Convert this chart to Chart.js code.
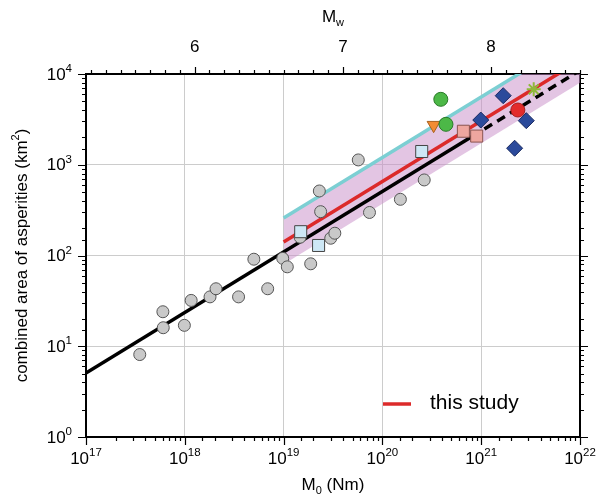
<!DOCTYPE html>
<html>
<head>
<meta charset="utf-8">
<script src="https://cdn.jsdelivr.net/npm/chart.js@4.4.1/dist/chart.umd.min.js"></script>
<style>
html, body { margin: 0; padding: 0; background: #fff; }
#wrap { width: 600px; height: 495px; }
</style>
</head>
<body>
<div id="wrap"><canvas id="chart"></canvas></div>
<script>
// earthquake catalog, M0 in Nm and combined asperity area in km2
const grayM0 = [3.5e17, 6.0e17, 6.05e17, 9.9e17, 1.16e18, 1.8e18, 2.07e18, 3.5e18, 5.0e18, 6.9e18, 9.8e18,
                1.09e19, 1.47e19, 1.88e19, 2.3e19, 2.37e19, 3.0e19, 3.3e19, 5.7e19, 7.4e19, 1.52e20, 2.65e20];
const grayArea = [8.1, 24, 16, 17, 32, 35, 43, 35, 91, 43, 93,
                  75, 159, 81, 514, 304, 155, 176, 1130, 298, 416, 680];
const blueSqM0 = [1.49e19, 2.26e19, 2.5e20];
const blueSqArea = [183, 129, 1400];
const pinkSqM0 = [6.6e20, 9.0e20];
const pinkSqArea = [2340, 2070];
const diamondM0 = [9.9e20, 1.67e21, 2.18e21, 2.86e21];
const diamondArea = [3110, 5770, 1520, 3060];
const redDotM0 = [2.35e21];
const redDotArea = [4010];
const greenM0 = [3.9e20, 4.4e20];
const greenArea = [5260, 2790];
const triM0 = [3.3e20];
const triArea = [2730];
const starM0 = [3.4e21];
const starArea = [6780];

// scaling relations (end points)
const blackM0 = [1e17, 8e20];
const blackArea = [5.07, 2030];
const dashM0 = [8e20, 1e22];
const dashArea = [2030, 10960];
const studyM0 = [1e19, 1e22];
const studyArea = [141, 14100];
const cyanArea = [259, 25900];
const bandLow = [80, 8000];

const mwLabels = [6, 7, 8];

const zip = (xs, ys) => xs.map((x, i) => ({ x: x, y: ys[i] }));
const isDecade = v => Math.abs(Math.log10(v) - Math.round(Math.log10(v))) < 1e-6;
const FONT = '"Liberation Sans", Arial, Helvetica, sans-serif';

function drawPow(ctx, base, exp, x, y, align) {
    ctx.font = '17px ' + FONT;
    const wb = ctx.measureText(base).width;
    ctx.font = '11.5px ' + FONT;
    const we = ctx.measureText(exp).width;
    const start = align === 'center' ? x - (wb + we) / 2 : x - wb - we;
    ctx.textAlign = 'left';
    ctx.textBaseline = 'middle';
    ctx.font = '17px ' + FONT;
    ctx.fillText(base, start, y);
    ctx.font = '11.5px ' + FONT;
    ctx.fillText(exp, start + wb, y - 6);
}

const decor = {
    id: 'decor',
    afterDraw(chart) {
        const ctx = chart.ctx;
        const a = chart.chartArea;
        const s = chart.scales;
        ctx.save();
        ctx.strokeStyle = '#000';
        ctx.lineWidth = 1.2;
        ctx.beginPath();
        s.x.ticks.forEach(t => {
            const p = Math.round(s.x.getPixelForValue(t.value)) + 0.5;
            const len = isDecade(t.value) ? 8 : 4;
            ctx.moveTo(p, a.bottom); ctx.lineTo(p, a.bottom + len);
        });
        s.y.ticks.forEach(t => {
            const p = Math.round(s.y.getPixelForValue(t.value)) + 0.5;
            const len = isDecade(t.value) ? 8 : 4;
            ctx.moveTo(a.left, p); ctx.lineTo(a.left - len, p);
        });
        s.y2.ticks.forEach(t => {
            const p = Math.round(s.y2.getPixelForValue(t.value)) + 0.5;
            const len = isDecade(t.value) ? 8 : 4;
            ctx.moveTo(a.right, p); ctx.lineTo(a.right + len, p);
        });
        s.x2.ticks.forEach(t => {
            const p = Math.round(s.x2.getPixelForValue(t.value)) + 0.5;
            const len = Math.abs(t.value - Math.round(t.value)) < 1e-6 ? 7 : 4;
            ctx.moveTo(p, a.top); ctx.lineTo(p, a.top - len);
        });
        ctx.stroke();

        ctx.fillStyle = '#000';
        s.x.ticks.forEach(t => {
            if (!isDecade(t.value)) return;
            drawPow(ctx, '10', String(Math.round(Math.log10(t.value))), s.x.getPixelForValue(t.value), a.bottom + 22, 'center');
        });
        s.y.ticks.forEach(t => {
            if (!isDecade(t.value)) return;
            drawPow(ctx, '10', String(Math.round(Math.log10(t.value))), a.left - 14, s.y.getPixelForValue(t.value) + 1, 'right');
        });
        ctx.font = '17px ' + FONT;
        ctx.textAlign = 'center';
        ctx.textBaseline = 'middle';
        mwLabels.forEach(m => ctx.fillText(String(m), s.x2.getPixelForValue(m), a.top - 27));

        // axis titles
        const cx = (a.left + a.right) / 2;
        ctx.font = '17px ' + FONT;
        let w1 = ctx.measureText('M').width;
        ctx.font = '11px ' + FONT;
        let w2 = ctx.measureText('w').width;
        ctx.textAlign = 'left';
        ctx.font = '17px ' + FONT;
        ctx.fillText('M', cx - (w1 + w2) / 2, 17);
        ctx.font = '11px ' + FONT;
        ctx.fillText('w', cx - (w1 + w2) / 2 + w1, 23);

        ctx.font = '17px ' + FONT;
        w1 = ctx.measureText('M').width;
        const w3 = ctx.measureText(' (Nm)').width;
        ctx.font = '11px ' + FONT;
        w2 = ctx.measureText('0').width;
        let x0 = cx - (w1 + w2 + w3) / 2;
        ctx.font = '17px ' + FONT;
        ctx.fillText('M', x0, 485);
        ctx.font = '11px ' + FONT;
        ctx.fillText('0', x0 + w1, 491);
        ctx.font = '17px ' + FONT;
        ctx.fillText(' (Nm)', x0 + w1 + w2, 485);

        ctx.save();
        ctx.translate(22, (a.top + a.bottom) / 2);
        ctx.rotate(-Math.PI / 2);
        const t1 = 'combined area of asperities (km';
        ctx.font = '17px ' + FONT;
        const wa = ctx.measureText(t1).width;
        const wc = ctx.measureText(')').width;
        ctx.font = '11px ' + FONT;
        const wsup = ctx.measureText('2').width;
        x0 = -(wa + wsup + wc) / 2;
        ctx.font = '17px ' + FONT;
        ctx.fillText(t1, x0, 0);
        ctx.font = '11px ' + FONT;
        ctx.fillText('2', x0 + wa, -6);
        ctx.font = '17px ' + FONT;
        ctx.fillText(')', x0 + wa + wsup, 0);
        ctx.restore();

        // legend
        ctx.strokeStyle = '#dc2a2a';
        ctx.lineWidth = 3.5;
        ctx.beginPath();
        ctx.moveTo(383, 404); ctx.lineTo(411, 404);
        ctx.stroke();
        ctx.font = '21px ' + FONT;
        ctx.textAlign = 'left';
        ctx.fillText('this study', 430, 403);
        ctx.restore();
    }
};

function pts(label, xs, ys, style, r, bg, bd, extra) {
    return Object.assign({
        label: label, data: zip(xs, ys), pointStyle: style, pointRadius: r,
        backgroundColor: bg, borderColor: bd, borderWidth: 1, showLine: false, order: 0
    }, extra || {});
}
function line(label, xs, ys, color, width, extra) {
    return Object.assign({
        label: label, data: zip(xs, ys), showLine: true, pointRadius: 0,
        borderColor: color, borderWidth: width, backgroundColor: color, fill: false, clip: 0, order: 1
    }, extra || {});
}

const datasets = [
    pts('star', starM0, starArea, 'star', 7, '#8fb83a', '#8fb83a', { borderWidth: 2 }),
    pts('red', redDotM0, redDotArea, 'circle', 7, '#e32b2b', '#a81c1c'),
    pts('diamond', diamondM0, diamondArea, 'rectRot', 8, '#2b4a9b', '#1a2a60'),
    pts('green', greenM0, greenArea, 'circle', 7, '#4cb847', '#2a7a28'),
    pts('tri', triM0, triArea, 'triangle', 7.5, '#f28c33', '#a8601f', { rotation: 180 }),
    pts('pinksq', pinkSqM0, pinkSqArea, 'rect', 8.5, '#eea69f', '#8a5550'),
    pts('bluesq', blueSqM0, blueSqArea, 'rect', 8.5, '#cde7f5', '#444'),
    pts('gray', grayM0, grayArea, 'circle', 6, '#c9c9c9', '#555', { order: 0.5 }),
    line('this study', studyM0, studyArea, '#dc2a2a', 3.5),
    line('fit', blackM0, blackArea, '#000', 3.5),
    line('fit ext', dashM0, dashArea, '#000', 3.5, { borderDash: [9, 6] }),
    line('upper', studyM0, cyanArea, '#7ccfd3', 3.5, { order: 2 }),
    line('band low', studyM0, bandLow, 'rgba(0,0,0,0)', 0, { order: 3 }),
    line('band high', studyM0, cyanArea, 'rgba(0,0,0,0)', 0, { order: 3, fill: 12, backgroundColor: 'rgba(200,140,200,0.5)' })
];

const gridColor = (lo, hi) => c => (c.tick && isDecade(c.tick.value) && c.tick.value > lo && c.tick.value < hi) ? '#cccccc' : 'rgba(0,0,0,0)';
const mwMin = (2 / 3) * (17 - 9.1);
const mwMax = (2 / 3) * (22 - 9.1);

new Chart(document.getElementById('chart'), {
    type: 'scatter',
    data: { datasets: datasets },
    options: {
        responsive: true,
        maintainAspectRatio: false,
        animation: false,
        devicePixelRatio: 1,
        layout: { padding: 0 },
        plugins: { legend: { display: false }, tooltip: { enabled: false } },
        scales: {
            x: {
                type: 'logarithmic', position: 'bottom', min: 1e17, max: 1e22,
                ticks: { display: false, autoSkip: false },
                grid: { color: gridColor(1e17, 1e22), drawTicks: false, lineWidth: 1 },
                border: { display: true, color: '#000', width: 2 },
                afterFit: s => { s.height = 58; }
            },
            x2: {
                type: 'linear', position: 'top', min: mwMin, max: mwMax,
                ticks: { display: false },
                grid: { display: false, drawTicks: false },
                border: { display: true, color: '#000', width: 2 },
                afterBuildTicks: s => {
                    const t = [];
                    for (let m = 53; m <= 86; m++) t.push({ value: m / 10 });
                    s.ticks = t;
                },
                afterFit: s => { s.height = 74; }
            },
            y: {
                type: 'logarithmic', position: 'left', min: 1, max: 1e4,
                ticks: { display: false, autoSkip: false },
                grid: { color: gridColor(1, 1e4), drawTicks: false, lineWidth: 1 },
                border: { display: true, color: '#000', width: 2 },
                afterFit: s => { s.width = 86; }
            },
            y2: {
                type: 'logarithmic', position: 'right', min: 1, max: 1e4,
                ticks: { display: false, autoSkip: false },
                grid: { display: false, drawTicks: false },
                border: { display: true, color: '#000', width: 2 },
                afterFit: s => { s.width = 20; }
            }
        }
    },
    plugins: [decor]
});
</script>
</body>
</html>
